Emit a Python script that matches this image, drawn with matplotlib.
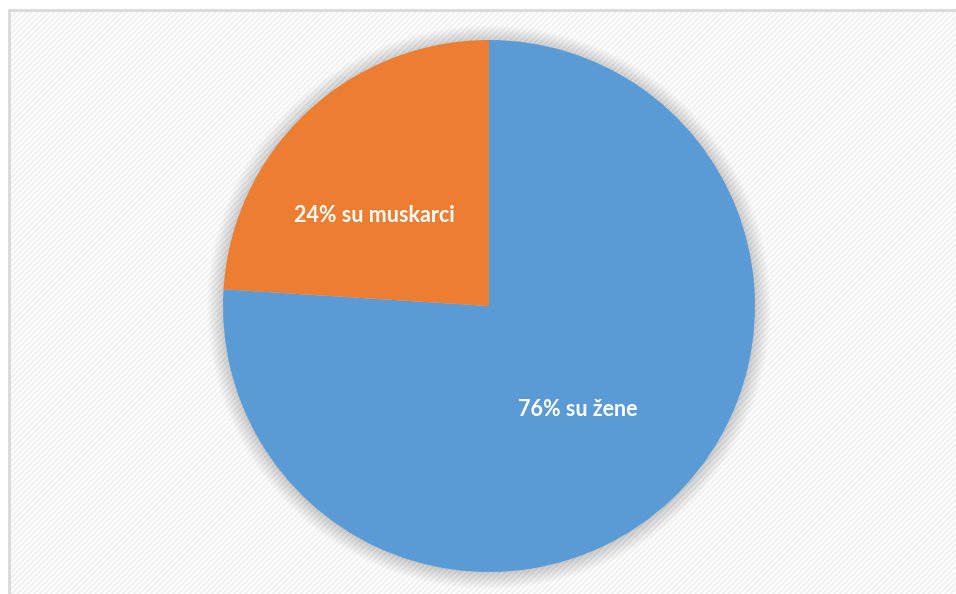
import matplotlib.pyplot as plt
from matplotlib.patches import Rectangle, Circle
import matplotlib as mpl

labels = ['76% su žene', '24% su muskarci']
shares = [76, 24]
colors = ['#5B9BD5', '#ED7D31']

mpl.rcParams['hatch.color'] = '#f0f0f0'
mpl.rcParams['hatch.linewidth'] = 1.4

W, H = 956, 594
fig = plt.figure(figsize=(W / 100, H / 100), dpi=100)
fig.patch.set_facecolor('white')

# background axes holding the chart-area frame with diagonal hatch
bg = fig.add_axes([0, 0, 1, 1])
bg.set_xlim(0, W)
bg.set_ylim(H, 0)
bg.axis('off')
bg.add_patch(Rectangle((9, 10), W + 40, H + 40, facecolor='white',
                       edgecolor='#f0f0f0', hatch='//////', linewidth=0))
# only the top and left edges of the frame are inside the picture
bg.plot([9, 9, W + 5], [H + 5, 10, 10], color='#d9d9d9', lw=2,
        solid_joinstyle='miter')

# pie axes: centre (489, 306), radius ~266 px
cx, cy, r = 489, 306, 266
ax = fig.add_axes([(cx - r) / W, (H - cy - r) / H, 2 * r / W, 2 * r / H])
ax.patch.set_alpha(0)

# soft shadow
for i in range(16):
    ax.add_patch(Circle((0, -0.004), 1 + 0.004 * i, color='black',
                        alpha=0.012, lw=0, zorder=1, clip_on=False))

wedges, _ = ax.pie(shares, colors=colors, startangle=90, counterclock=False,
                   radius=1, wedgeprops=dict(linewidth=0), frame=False)
for w in wedges:
    w.set_zorder(2)

ax.set_xlim(-1, 1)
ax.set_ylim(-1, 1)
ax.set_aspect('equal')
ax.axis('off')

# labels
ax.text((578 - cx) / r, -(410 - cy) / r, labels[0], color='white',
        fontsize=15.5, fontweight='bold', family='Lato',
        ha='center', va='center', zorder=3)
ax.text((374 - cx) / r, -(215 - cy) / r, labels[1], color='white',
        fontsize=15.5, fontweight='bold', family='Lato',
        ha='center', va='center', zorder=3)

fig.savefig('out.png', dpi=100)
